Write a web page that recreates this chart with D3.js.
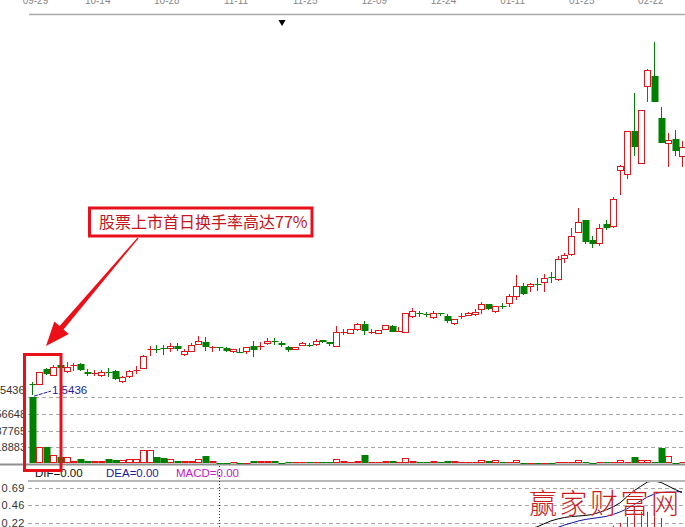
<!DOCTYPE html>
<html><head><meta charset="utf-8">
<script src="https://cdn.jsdelivr.net/npm/d3@7"></script>
<style>html,body{margin:0;padding:0;background:#fff;overflow:hidden}</style>
</head><body><svg id="c" width="685" height="527" xmlns="http://www.w3.org/2000/svg"></svg>
<script>
// ---------------- DATA ----------------
const openP = [2.60,2.60,4.10,3.50,4.50,3.90,4.40,4.60,3.80,3.60,
 3.50,3.85,3.90,2.90,3.40,3.95,4.20,6.05,6.15,6.25,
 6.20,6.40,5.60,5.90,6.60,6.80,6.25,6.35,6.20,5.90,
 5.85,5.90,6.40,6.35,6.70,6.90,6.75,6.35,6.10,6.50,
 6.55,6.60,7.00,6.80,6.45,7.75,7.75,8.10,8.60,7.75,
 7.75,8.15,8.40,7.80,7.85,9.43,9.75,9.65,9.33,9.70,
 9.40,8.67,9.35,9.50,9.60,10.07,10.60,9.90,10.45,10.67,
 11.40,12.40,12.40,12.62,12.83,13.35,13.10,15.17,15.57,17.83,
 19.00,17.00,16.70,18.60,18.40,24.00,23.57,27.90,24.73,32.40,
 33.40,29.23,26.73,27.10,25.43];
const highP = [2.80,3.80,4.20,4.50,4.60,4.80,4.70,4.70,4.10,4.00,
 4.00,4.20,4.00,3.40,4.00,4.40,5.50,6.40,6.50,6.50,
 6.70,6.70,6.10,6.70,7.40,7.30,6.40,6.35,6.30,6.10,
 6.20,6.30,6.90,6.80,7.20,7.20,6.95,6.40,6.30,6.80,
 6.75,7.10,7.00,6.80,8.40,8.10,8.10,8.75,8.95,8.10,
 8.00,8.50,8.50,8.30,9.70,10.20,9.95,9.85,9.95,9.70,
 9.60,9.15,9.70,9.85,10.10,10.85,10.60,10.40,10.67,11.57,
 13.50,12.67,12.73,13.17,13.57,13.83,15.40,15.67,18.17,20.17,
 19.00,17.40,18.60,19.00,21.30,24.50,27.90,31.73,30.00,34.07,
 36.83,30.27,27.67,28.00,26.90];
const lowP = [1.50,2.60,3.50,3.40,4.10,3.70,3.90,3.90,3.40,3.40,
 3.30,3.30,3.00,2.70,3.20,3.60,4.10,5.40,5.70,5.50,
 5.80,5.90,5.40,5.80,6.50,5.90,5.80,5.90,5.80,5.70,
 5.75,5.60,5.30,6.00,6.50,6.50,6.30,5.80,6.00,6.40,
 6.30,6.40,6.70,6.40,6.40,7.50,7.70,7.95,7.50,7.60,
 7.70,8.10,7.80,7.80,7.80,9.25,9.35,9.35,9.10,9.45,
 8.70,8.55,9.10,9.40,9.40,9.65,10.05,9.75,10.10,10.33,
 11.00,11.50,11.83,11.93,11.83,12.73,12.93,14.67,15.43,17.67,
 16.60,16.20,16.40,18.00,18.20,21.50,23.10,25.43,24.60,30.83,
 30.83,26.67,24.33,25.43,24.33];
const closeP = [2.50,3.80,3.60,4.30,4.20,4.30,4.50,4.00,3.60,3.70,
 3.80,3.75,3.10,3.30,3.90,4.05,5.40,6.15,6.05,6.15,
 6.40,6.10,5.90,6.50,6.90,6.30,6.35,6.25,5.90,6.10,
 5.75,6.30,6.00,6.45,6.90,6.80,6.50,6.00,6.30,6.70,
 6.45,6.95,6.85,6.60,7.80,7.85,8.10,8.60,7.95,7.85,
 8.00,8.50,7.85,7.90,9.67,9.93,9.65,9.55,9.67,9.60,
 8.93,9.10,9.45,9.70,9.83,10.60,10.07,10.40,10.35,11.40,
 12.40,11.60,12.60,12.52,13.20,13.25,15.10,15.50,17.40,18.77,
 16.83,16.60,18.20,18.20,21.07,24.40,27.90,26.27,30.00,34.00,
 30.83,26.73,27.00,25.93,26.30];
const volume = [75436,19700,19200,10100,7900,8450,3400,5600,3900,3400,
 3400,5600,4500,4500,5300,5300,15800,15800,8200,6800,
 5300,3900,3700,3700,5600,9400,3400,1500,1500,2600,
 1500,1500,3400,3400,3400,3400,1500,2600,1900,2600,
 1900,1900,1900,1900,5300,3400,2800,3400,10100,2300,
 2300,3400,3400,1700,6800,3400,2300,1700,3400,1700,
 3400,3400,2300,2300,2800,4500,3400,4500,2600,2600,
 4500,1500,1500,1500,1500,1500,2600,2600,2600,4500,
 2600,1500,2600,2600,2600,4500,2600,8200,4500,4500,
 2600,17700,9000,1100,2600];
const dateLabels = ["09-29","10-14","10-28","11-11","11-25","12-09","12-24","01-11","01-25","02-22"];
const dateIndex = [0,9,19,29,39,49,59,69,79,89];
const volTickValues = [18883, 37765, 56648];
const volTickLabels = ["18883","37765","56648"];
const volMaxLabel = "75436";
const volMarkLabel = "1.5436";
const macdTickValues = [0.22, 0.46, 0.69];
const macdTickLabels = ["0.22","0.46","0.69"];
const macdStartIndex = 70;
const difValues = [0.104,0.131,0.151,0.171,0.211,0.251,0.277,0.297,0.311,0.317,
 0.324,0.337,0.364,0.397,0.437,0.490,0.570,0.650,0.710,0.770,
 0.783,0.763,0.717,0.670,0.630];
const deaValues = [0.038,0.058,0.071,0.084,0.104,0.131,0.164,0.197,0.224,0.251,
 0.271,0.284,0.297,0.311,0.337,0.370,0.410,0.464,0.517,0.570,
 0.610,0.630,0.643,0.643,0.637];
const macdHist = [0.10,0.10,0.11,0.12,0.14,0.15,0.15,0.15,0.14,0.13,
 0.12,0.12,0.13,0.16,0.19,0.224,0.304,0.357,0.374,0.374,
 0.357,0.290,0.15,0.06,0.01];
const headerTexts = ["DIF=0.00","DEA=0.00","MACD=0.00"];
const annotationText = "股票上市首日换手率高达77%";
const watermarkText = "赢家财富网";

// ---------------- CHART ----------------
const W = 685, H = 527;
const RED = "#e0161b", GREEN = "#008000";
const svg = d3.select("#c");
const N = closeP.length;
const idx = d3.range(N);
const x = d3.scalePoint().domain(idx).range([32, 682]);
const yP = d3.scaleLinear().domain([0, 41]).range([410, 0]);
const yV = d3.scaleLinear().domain([0, 75530]).range([464, 397]);
const yM = d3.scaleLinear().domain([0.22, 0.69]).range([523.3, 488]);
const cx = i => Math.round(x(i));
const FONT = "Liberation Sans, Arial, sans-serif";

svg.append("rect").attr("width", W).attr("height", H).attr("fill", "#fff");

// top date axis
svg.append("line").attr("x1", 29).attr("x2", W).attr("y1", 14.5).attr("y2", 14.5)
  .attr("stroke", "#aaa").attr("stroke-width", 1.5);
svg.append("g").selectAll("text").data(dateLabels).join("text")
  .attr("x", (d, k) => x(dateIndex[k]) + x.step() / 2)
  .attr("y", 3.5).attr("text-anchor", "middle")
  .attr("font-family", FONT).attr("font-size", 10).attr("fill", "#888")
  .text(d => d);
svg.append("path").attr("d", d3.symbol(d3.symbolTriangle, 22)())
  .attr("transform", "translate(282,22) rotate(180)").attr("fill", "#000");

// volume grid
const gridV = svg.append("g");
volTickValues.concat([75530]).forEach(v => {
  gridV.append("line").attr("x1", 28).attr("x2", W)
    .attr("y1", Math.round(yV(v)) + 0.5).attr("y2", Math.round(yV(v)) + 0.5)
    .attr("stroke", "#a8a8a8").attr("stroke-dasharray", "4,3");
});
gridV.selectAll("text").data(volTickValues).join("text")
  .attr("x", 26).attr("y", d => yV(d) + 4).attr("text-anchor", "end")
  .attr("font-family", FONT).attr("font-size", 11).attr("fill", "#333")
  .text((d, k) => volTickLabels[k]);
gridV.append("text").attr("x", 24.5).attr("y", yV(75530) - 3).attr("text-anchor", "end")
  .attr("font-family", FONT).attr("font-size", 11).attr("fill", "#333").text(volMaxLabel);

// macd grid
const gridM = svg.append("g");
macdTickValues.forEach((v, k) => {
  gridM.append("line").attr("x1", 28).attr("x2", W)
    .attr("y1", Math.round(yM(v)) + 0.5).attr("y2", Math.round(yM(v)) + 0.5)
    .attr("stroke", "#a8a8a8").attr("stroke-dasharray", "4,3");
  gridM.append("text").attr("x", 25).attr("y", yM(v) + 4).attr("text-anchor", "end")
    .attr("font-family", FONT).attr("font-size", 11).attr("fill", "#333")
    .attr("letter-spacing", 0.5).text(macdTickLabels[k]);
});

// separators
svg.append("line").attr("x1", 0).attr("x2", W).attr("y1", 464.5).attr("y2", 464.5)
  .attr("stroke", "#909090").attr("stroke-width", 2);
svg.append("line").attr("x1", 28).attr("x2", W).attr("y1", 481).attr("y2", 481)
  .attr("stroke", "#a0a0a0").attr("stroke-width", 1.5);

// cursor dotted line
svg.append("line").attr("x1", cx(27) + 0.5).attr("x2", cx(27) + 0.5).attr("y1", 466).attr("y2", H)
  .attr("stroke", "#333").attr("stroke-dasharray", "1,2");

// candles
const gC = svg.append("g");
idx.forEach(i => {
  const o = openP[i], c = closeP[i], up = c > o;
  const col = up ? RED : GREEN;
  const X = cx(i);
  const top = Math.round(yP(Math.max(o, c))), bot = Math.round(yP(Math.min(o, c)));
  const hi = Math.round(yP(highP[i])), lo = Math.round(yP(lowP[i]));
  const bh = bot - top;
  if (up && bh >= 2) {
    gC.append("line").attr("x1", X + 0.5).attr("x2", X + 0.5).attr("y1", hi).attr("y2", top)
      .attr("stroke", col);
    gC.append("line").attr("x1", X + 0.5).attr("x2", X + 0.5).attr("y1", bot + 1).attr("y2", lo)
      .attr("stroke", col);
    gC.append("rect").attr("x", X - 2.5).attr("y", top + 0.5).attr("width", 6).attr("height", bh)
      .attr("fill", "#fff").attr("stroke", col);
  } else {
    gC.append("line").attr("x1", X + 0.5).attr("x2", X + 0.5).attr("y1", hi).attr("y2", lo)
      .attr("stroke", col);
    gC.append("rect").attr("x", X - 2.5).attr("y", top).attr("width", 7).attr("height", Math.max(bh, 1))
      .attr("fill", col);
  }
});

// volume bars
const gV = svg.append("g");
idx.forEach(i => {
  const up = closeP[i] > openP[i];
  const col = up ? RED : GREEN;
  const X = cx(i);
  const top = Math.round(yV(volume[i]));
  const h = 463 - top;
  if (up && h >= 3) {
    gV.append("rect").attr("x", X - 2.5).attr("y", top + 0.5).attr("width", 6).attr("height", h - 1)
      .attr("fill", "#fff").attr("stroke", col);
  } else {
    gV.append("rect").attr("x", X - 2.5).attr("y", top).attr("width", 7).attr("height", Math.max(h, 1))
      .attr("fill", col);
  }
});

// max volume marker
svg.append("line").attr("x1", cx(0) + 2).attr("y1", yV(volume[0]) - 1)
  .attr("x2", cx(0) + 19).attr("y2", yV(volume[0]) - 6)
  .attr("stroke", "#1c1c9c").attr("stroke-dasharray", "4,1");
svg.append("text").attr("x", cx(0) + 20).attr("y", yV(volume[0]) - 3.5)
  .attr("font-family", FONT).attr("font-size", 11.5).attr("fill", "#1c1c9c").text(volMarkLabel);

// macd header
const hdr = svg.append("g").attr("font-family", FONT).attr("font-size", 11.5);
hdr.append("text").attr("x", 35).attr("y", 477).attr("fill", "#111").text(headerTexts[0]);
hdr.append("text").attr("x", 106).attr("y", 477).attr("fill", "#1c1c9c").text(headerTexts[1]);
hdr.append("text").attr("x", 176).attr("y", 477).attr("fill", "#c020c0").text(headerTexts[2]);

// macd panel
svg.append("clipPath").attr("id", "mclip").append("rect")
  .attr("x", 0).attr("y", 482).attr("width", W).attr("height", H - 482);
const gM = svg.append("g").attr("clip-path", "url(#mclip)");
const mIdx = d3.range(macdStartIndex, macdStartIndex + difValues.length);
mIdx.forEach((i, k) => {
  if (macdHist[k] > 0) {
    gM.append("line").attr("x1", cx(i) + 0.5).attr("x2", cx(i) + 0.5)
      .attr("y1", yM(0)).attr("y2", yM(macdHist[k])).attr("stroke", RED);
  }
});
const lineGen = vals => d3.line().x((d, k) => x(mIdx[k])).y(d => yM(d))(vals);
gM.append("path").attr("d", lineGen(deaValues)).attr("fill", "none").attr("stroke", "#1010a0");
gM.append("path").attr("d", lineGen(difValues)).attr("fill", "none").attr("stroke", "#000");

// watermark
svg.append("text").attr("x", 529).attr("y", 514)
  .attr("font-family", "Noto Sans CJK SC, sans-serif").attr("font-weight", 300)
  .attr("font-size", 28).attr("letter-spacing", 2.5)
  .attr("fill", "#c81e1e").attr("stroke", "#fff").attr("stroke-width", 0.4)
  .attr("paint-order", "stroke").text(watermarkText);

// highlight box around first candles
svg.append("rect").attr("x", 24.5).attr("y", 354.5).attr("width", 36.5).attr("height", 116)
  .attr("fill", "none").attr("stroke", "#e8101a").attr("stroke-width", 3);

// annotation box
svg.append("rect").attr("x", 89.5).attr("y", 208).attr("width", 222.5).attr("height", 28)
  .attr("fill", "#fff").attr("stroke", "#e8101a").attr("stroke-width", 3);
svg.append("text").attr("x", 99).attr("y", 228)
  .attr("font-family", "Noto Sans CJK SC, sans-serif").attr("font-size", 16)
  .attr("fill", "#c4161c").text(annotationText);

// arrow
(function () {
  const tail = [138, 238], tip = [46, 346];
  const dx = tip[0] - tail[0], dy = tip[1] - tail[1];
  const L = Math.hypot(dx, dy), ux = dx / L, uy = dy / L, nx = -uy, ny = ux;
  const headL = 24, headW = 9.5, shaftW0 = 0.6, shaftW1 = 2.6;
  const bx = tip[0] - ux * headL, by = tip[1] - uy * headL;
  const pts = [
    [tail[0] + nx * shaftW0, tail[1] + ny * shaftW0],
    [bx + nx * shaftW1, by + ny * shaftW1],
    [bx + nx * headW, by + ny * headW],
    tip,
    [bx - nx * headW, by - ny * headW],
    [bx - nx * shaftW1, by - ny * shaftW1],
    [tail[0] - nx * shaftW0, tail[1] - ny * shaftW0]
  ];
  svg.append("path").attr("d", "M" + pts.map(p => p.join(",")).join("L") + "Z")
    .attr("fill", "#ec1018");
})();
</script>
</body></html>
